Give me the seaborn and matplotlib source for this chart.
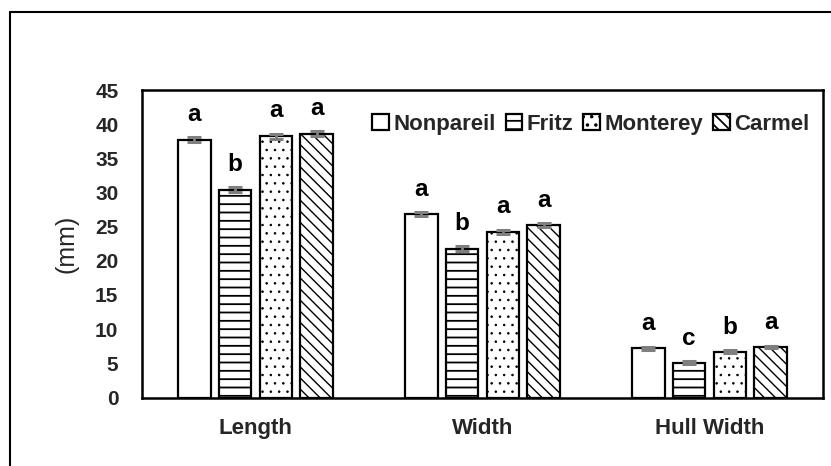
import matplotlib
matplotlib.use("Agg")
import matplotlib.pyplot as plt
import seaborn as sns
import pandas as pd
from matplotlib.lines import Line2D

traits = ["Length", "Width", "Hull Width"]
cultivars = ["Nonpareil", "Fritz", "Monterey", "Carmel"]
length_vals = [37.7, 30.4, 38.2, 38.6]
width_vals = [26.8, 21.8, 24.2, 25.2]
hull_vals = [7.2, 5.1, 6.7, 7.4]
length_err = [0.35, 0.35, 0.35, 0.35]
width_err = [0.3, 0.3, 0.3, 0.3]
hull_err = [0.2, 0.2, 0.2, 0.2]
length_letters = ["a", "b", "a", "a"]
width_letters = ["a", "b", "a", "a"]
hull_letters = ["a", "c", "b", "a"]
yticks = [0, 5, 10, 15, 20, 25, 30, 35, 40, 45]

rows = []
for t, vals, errs, lets in zip(traits,
                               [length_vals, width_vals, hull_vals],
                               [length_err, width_err, hull_err],
                               [length_letters, width_letters, hull_letters]):
    for c, v, e, l in zip(cultivars, vals, errs, lets):
        rows.append({"Trait": t, "Cultivar": c, "Value": v, "Err": e, "Letter": l})
df = pd.DataFrame(rows)

sns.set_theme(style="white")
plt.rcParams["font.family"] = ["Liberation Sans", "DejaVu Sans"]
plt.rcParams["hatch.linewidth"] = 1.3
plt.rcParams["hatch.color"] = "black"

fig = plt.figure(figsize=(8.31, 4.66), dpi=100)
ax = fig.add_axes([142 / 831, (466 - 397.5) / 466, (823 - 142) / 831, (397.5 - 90) / 466])

sns.barplot(data=df, x="Trait", y="Value", hue="Cultivar", order=traits,
            hue_order=cultivars, palette=["white"] * 4, width=0.72, gap=0.2,
            errorbar=None, edgecolor="black", linewidth=1.6, ax=ax,
            saturation=1, legend=False)

hatches = ["", "--", "..", "\\\\\\"]
hatch_lw = [1.3, 1.3, 0.6, 1.0]
for cont, h, hl, cult in zip(ax.containers, hatches, hatch_lw, cultivars):
    sub = df[df["Cultivar"] == cult].set_index("Trait").loc[traits]
    for bar, (_, r) in zip(cont, sub.iterrows()):
        bar.set_hatch(h)
        if hasattr(bar, "set_hatch_linewidth"):
            bar.set_hatch_linewidth(hl)
        bar.set_edgecolor("black")
        xc = bar.get_x() + bar.get_width() / 2
        hgt = bar.get_height()
        ax.errorbar(xc, hgt, yerr=r["Err"], fmt="none", ecolor="#7f7f7f",
                    elinewidth=2, capsize=5, capthick=2.2, zorder=5)
        ax.annotate(r["Letter"], (xc, hgt + r["Err"]), xytext=(0, 12),
                    textcoords="offset points", ha="center", va="baseline",
                    fontsize=17.5, fontweight="bold", color="black")

ax.set_xlim(-0.5, 2.5)
ax.set_ylim(0, 45)
ax.set_yticks(yticks)
ax.set_yticklabels([str(v) for v in yticks], fontsize=15, fontweight="bold")
ax.set_xticks(range(len(traits)))
ax.set_xticklabels(traits, fontsize=16, fontweight="bold")
ax.tick_params(axis="y", length=0, pad=17)
ax.tick_params(axis="x", length=0, pad=15)
ax.set_xlabel("")
ax.set_ylabel("(mm)", fontsize=18, fontweight="normal", labelpad=12)
for s in ax.spines.values():
    s.set_visible(True)
    s.set_color("black")
    s.set_linewidth(1.8)

leg = ax.legend(handles=[c[0] for c in ax.containers], labels=cultivars,
                loc="upper right", bbox_to_anchor=(1.0, 0.965), ncol=4, frameon=False,
                handlelength=0.75, handleheight=0.75, handletextpad=0.2,
                columnspacing=0.45, borderaxespad=0.2,
                prop={"size": 16, "weight": "bold"})

fig.add_artist(Line2D([10 / 831, 10 / 831], [0, 1 - 12 / 466], transform=fig.transFigure,
                      color="black", linewidth=1.5))
fig.add_artist(Line2D([10 / 831, 1], [1 - 12 / 466, 1 - 12 / 466], transform=fig.transFigure,
                      color="black", linewidth=1.5))

fig.savefig("out.png", dpi=100)
